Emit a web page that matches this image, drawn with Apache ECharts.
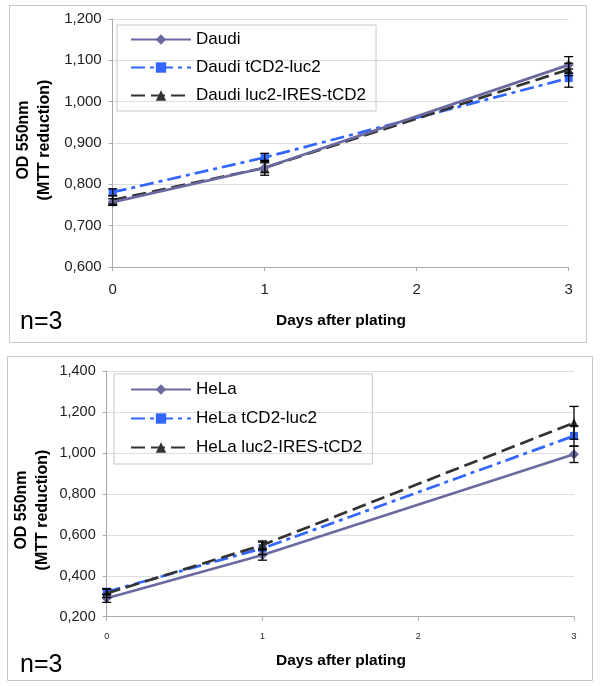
<!DOCTYPE html>
<html><head><meta charset="utf-8">
<script src="https://cdn.jsdelivr.net/npm/echarts@6/dist/echarts.min.js"></script>
<style>html,body{margin:0;padding:0;background:#fff}#c{width:600px;height:686px}</style>
</head><body><div id="c"></div>
<script>
// ---- data ----
const days = [0, 1, 3];
const xTicks = [0, 1, 2, 3];

const daudiNames = ['Daudi', 'Daudi tCD2-luc2', 'Daudi luc2-IRES-tCD2'];
const daudi = [0.757, 0.840, 1.089];
const daudiErr = [0.008, 0.012, 0.020];
const daudiTcd2 = [0.781, 0.865, 1.057];
const daudiTcd2Err = [0.008, 0.010, 0.022];
const daudiLuc2 = [0.762, 0.840, 1.078];
const daudiLuc2Err = [0.010, 0.018, 0.015];

const helaNames = ['HeLa', 'HeLa tCD2-luc2', 'HeLa luc2-IRES-tCD2'];
const hela = [0.290, 0.501, 0.993];
const helaErr = [0.020, 0.025, 0.040];
const helaTcd2 = [0.322, 0.534, 1.083];
const helaTcd2Err = [0.015, 0.030, 0.050];
const helaLuc2 = [0.314, 0.550, 1.147];
const helaLuc2Err = [0.020, 0.020, 0.080];

const yTicksTop = [0.6, 0.7, 0.8, 0.9, 1.0, 1.1, 1.2];
const yTicksBottom = [0.2, 0.4, 0.6, 0.8, 1.0, 1.2, 1.4];

const FONT = 'Liberation Sans, Arial, sans-serif';
const C_PURPLE = '#6a6aa0', C_BLUE = '#3366ff', C_BLACK = '#333333';

function pts(v) { return days.map((d, i) => [d, v[i]]); }
function errs(v, e) { return days.map((d, i) => [d, v[i] - e[i], v[i] + e[i]]); }
function fmt(v) { return v.toFixed(3).replace('.', ','); }

function errRender(params, api) {
  const x = api.value(0), lo = api.value(1), hi = api.value(2);
  const a = api.coord([x, lo]), b = api.coord([x, hi]);
  const w = 4.5, st = { stroke: '#000', lineWidth: 1.3 };
  return { type: 'group', children: [
    { type: 'line', shape: { x1: a[0], y1: a[1], x2: b[0], y2: b[1] }, style: st },
    { type: 'line', shape: { x1: a[0] - w, y1: a[1], x2: a[0] + w, y2: a[1] }, style: st },
    { type: 'line', shape: { x1: b[0] - w, y1: b[1], x2: b[0] + w, y2: b[1] }, style: st }
  ]};
}

function lineSeries(name, v, idx, kind) {
  const sty = {
    purple: { color: C_PURPLE, type: 'solid', symbol: 'diamond', size: 10, z: 5 },
    blue: { color: C_BLUE, type: [14, 5, 4, 5], symbol: 'rect', size: 8, z: 3 },
    black: { color: C_BLACK, type: [14, 6], symbol: 'triangle', size: 9, z: 4 }
  }[kind];
  return {
    type: 'line', name: name, xAxisIndex: idx, yAxisIndex: idx, data: pts(v),
    symbol: sty.symbol, symbolSize: sty.size, showSymbol: true, z: sty.z,
    itemStyle: { color: sty.color }, clip: false, animation: false,
    lineStyle: { color: sty.color, width: 2.7, type: sty.type }
  };
}
function errSeries(v, e, idx) {
  return { type: 'custom', xAxisIndex: idx, yAxisIndex: idx, data: errs(v, e),
    renderItem: errRender, z: 6, clip: false, animation: false, silent: true,
    encode: { x: 0, y: [1, 2] } };
}

function xAxis(idx, fs) {
  return { type: 'value', gridIndex: idx, min: xTicks[0], max: xTicks[xTicks.length - 1], interval: 1,
    axisLine: { show: true, lineStyle: { color: '#aaa' } },
    axisTick: { show: true, length: 4, lineStyle: { color: '#aaa' } },
    splitLine: { show: false },
    axisLabel: { fontFamily: FONT, fontSize: fs, color: '#222', margin: 15 } };
}
function yAxis(idx, ticks, fs) {
  return { type: 'value', gridIndex: idx, min: ticks[0], max: ticks[ticks.length - 1],
    interval: +(ticks[1] - ticks[0]).toFixed(3),
    axisLine: { show: true, lineStyle: { color: '#aaa' } },
    axisTick: { show: true, length: 4, lineStyle: { color: '#aaa' } },
    splitLine: { show: true, lineStyle: { color: '#dedede', width: 1 } },
    axisLabel: { fontFamily: FONT, fontSize: fs, color: '#222', margin: 11, formatter: fmt } };
}
function legend(names, left, top, pad, gap) {
  return { data: names, orient: 'vertical', left: left, top: top, padding: pad,
    itemWidth: 60, itemHeight: 13, itemGap: gap, itemTextGap: 4,
    borderColor: '#c8c8c8', borderWidth: 1,
    textStyle: { fontFamily: FONT, fontSize: 17, color: '#000' } };
}

const chart = echarts.init(document.getElementById('c'), null, { renderer: 'canvas' });
chart.setOption({
  animation: false,
  backgroundColor: '#fff',
  grid: [
    { left: 112.7, right: 31.3, top: 19, height: 248 },
    { left: 106.7, right: 26, top: 371, height: 245.7 }
  ],
  xAxis: [xAxis(0, 15), xAxis(1, 9)],
  yAxis: [yAxis(0, yTicksTop, 15), yAxis(1, yTicksBottom, 14.5)],
  legend: [
    legend(daudiNames, 117, 25, [6, 10, 7, 13], 11),
    legend(helaNames, 114, 374, [7, 10, 8, 16], 12)
  ],
  graphic: [
    { type: 'rect', shape: { x: 9.5, y: 5.5, width: 577, height: 337 }, style: { fill: 'none', stroke: '#c8c8c8', lineWidth: 1 }, silent: true },
    { type: 'rect', shape: { x: 7.5, y: 356.5, width: 585, height: 324 }, style: { fill: 'none', stroke: '#c8c8c8', lineWidth: 1 }, silent: true },
    { type: 'text', x: 34.5, y: 140, rotation: Math.PI / 2, style: { text: 'OD 550nm\n(MTT reduction)', font: 'bold 16px ' + FONT, fill: '#000', textAlign: 'center', textVerticalAlign: 'middle', lineHeight: 21 } },
    { type: 'text', x: 32.5, y: 510, rotation: Math.PI / 2, style: { text: 'OD 550nm\n(MTT reduction)', font: 'bold 16px ' + FONT, fill: '#000', textAlign: 'center', textVerticalAlign: 'middle', lineHeight: 21 } },
    { type: 'text', x: 341, y: 321, style: { text: 'Days after plating', font: 'bold 15.5px ' + FONT, fill: '#000', textAlign: 'center', textVerticalAlign: 'middle' } },
    { type: 'text', x: 341, y: 661, style: { text: 'Days after plating', font: 'bold 15.5px ' + FONT, fill: '#000', textAlign: 'center', textVerticalAlign: 'middle' } },
    { type: 'text', x: 20, y: 322, style: { text: 'n=3', font: '25px ' + FONT, fill: '#000', textAlign: 'left', textVerticalAlign: 'middle' } },
    { type: 'text', x: 20, y: 665, style: { text: 'n=3', font: '25px ' + FONT, fill: '#000', textAlign: 'left', textVerticalAlign: 'middle' } }
  ],
  series: [
    lineSeries(daudiNames[1], daudiTcd2, 0, 'blue'),
    lineSeries(daudiNames[2], daudiLuc2, 0, 'black'),
    lineSeries(daudiNames[0], daudi, 0, 'purple'),
    errSeries(daudi, daudiErr, 0),
    errSeries(daudiTcd2, daudiTcd2Err, 0),
    errSeries(daudiLuc2, daudiLuc2Err, 0),
    lineSeries(helaNames[1], helaTcd2, 1, 'blue'),
    lineSeries(helaNames[2], helaLuc2, 1, 'black'),
    lineSeries(helaNames[0], hela, 1, 'purple'),
    errSeries(hela, helaErr, 1),
    errSeries(helaTcd2, helaTcd2Err, 1),
    errSeries(helaLuc2, helaLuc2Err, 1)
  ]
});
</script></body></html>
